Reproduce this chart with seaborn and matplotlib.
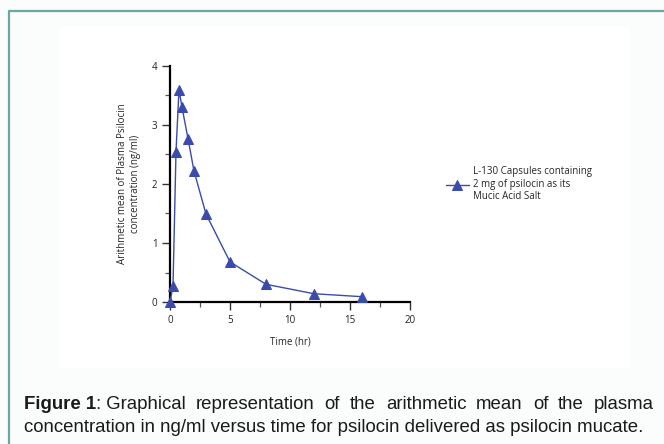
"""
Psilocin plasma concentration curve (Figure 1)
"""

import matplotlib
matplotlib.use("Agg")
import matplotlib.pyplot as plt
import seaborn as sns
import pandas as pd
from matplotlib.patches import Rectangle
from matplotlib.lines import Line2D
from matplotlib.ticker import MultipleLocator

# data
time_hr = [0, 0.25, 0.5, 0.75, 1.0, 1.5, 2, 3, 5, 8, 12, 16]
conc_ng_ml = [0, 0.27, 2.55, 3.60, 3.30, 2.77, 2.22, 1.49, 0.68, 0.30, 0.14, 0.09]
series_label = "L-130 Capsules containing\n2 mg of psilocin as its\nMucic Acid Salt"
x_ticks = [0, 5, 10, 15, 20]
y_ticks = [0, 1, 2, 3, 4]
caption_line1 = ["Figure 1", ": Graphical", "representation", "of", "the", "arithmetic",
                 "mean", "of", "the", "plasma"]
caption_line2 = "concentration in ng/ml versus time for psilocin delivered as psilocin mucate."

df = pd.DataFrame({"time": time_hr, "conc": conc_ng_ml})

sns.set_style("ticks")
plt.rcParams["font.family"] = ["Open Sans", "DejaVu Sans"]

W, H = 664, 444
fig = plt.figure(figsize=(W / 100, H / 100), dpi=100, facecolor="#fbfcfc")

# white panel behind the chart, and teal frame lines
fig.patches.append(Rectangle((60 / W, 1 - 368 / H), 570 / W, 341 / H,
                             transform=fig.transFigure, facecolor="white",
                             edgecolor="none", zorder=-5))
teal = "#6aa9a0"
fig.lines.append(Line2D([9 / W, 9 / W], [0, 1 - 11 / H], transform=fig.transFigure,
                        color=teal, lw=1.6))
fig.lines.append(Line2D([9 / W, 1], [1 - 11 / H, 1 - 11 / H], transform=fig.transFigure,
                        color=teal, lw=1.6))

ax = fig.add_axes([170 / W, 1 - 302 / H, 240 / W, 236 / H])
ax.set_facecolor("none")
line_color = "#3a4bab"
sns.lineplot(data=df, x="time", y="conc", ax=ax, color=line_color, lw=1.0,
             marker="^", markersize=7, markeredgecolor=line_color,
             label=series_label, clip_on=False, zorder=5)

ax.set_xlim(0, 20)
ax.set_ylim(0, 4)
ax.set_xticks(x_ticks)
ax.set_yticks(y_ticks)
ax.xaxis.set_minor_locator(MultipleLocator(2.5))
ax.yaxis.set_minor_locator(MultipleLocator(0.5))
ax.tick_params(which="major", length=6, width=1.0, labelsize=7, color="#333333",
               labelcolor="#222222", pad=3)
ax.tick_params(which="minor", length=3.5, width=0.9, color="#555555")
for side in ["top", "right"]:
    ax.spines[side].set_visible(False)
for side in ["left", "bottom"]:
    ax.spines[side].set_linewidth(1.6)
    ax.spines[side].set_color("black")

ax.set_xlabel("Time (hr)", fontsize=7, labelpad=8)
ax.set_ylabel("Arithmetic mean of Plasma Psilocin\nconcentration (ng/ml)", fontsize=7,
              labelpad=8, linespacing=1.2)

ax.legend(loc="center left", bbox_to_anchor=(1.135, 0.5), frameon=False, fontsize=7,
          handlelength=2.3, handletextpad=0.45, borderaxespad=0, labelspacing=0.3)

# caption, first line justified across the width
renderer = fig.canvas.get_renderer()
left, right = 24 / W, 654 / W
y1 = 1 - 404 / H
texts = []
for i, word in enumerate(caption_line1):
    weight = "bold" if i == 0 else "normal"
    t = fig.text(0, y1, word, fontsize=13.4, fontweight=weight, va="center",
                 family=["Liberation Sans", "DejaVu Sans"], color="#1a1a1a")
    texts.append(t)
widths = [t.get_window_extent(renderer).width / W for t in texts]
gaps = len(texts) - 2  # "Figure 1" and ": Graphical" stick together
space = (right - left - sum(widths)) / gaps
x = left
for i, t in enumerate(texts):
    t.set_x(x)
    x += widths[i]
    if i != 0:
        x += space
fig.text(left, 1 - 427 / H, caption_line2, fontsize=13.4, va="center",
         family=["Liberation Sans", "DejaVu Sans"], color="#1a1a1a")

plt.savefig("out.png", dpi=100, facecolor=fig.get_facecolor())
